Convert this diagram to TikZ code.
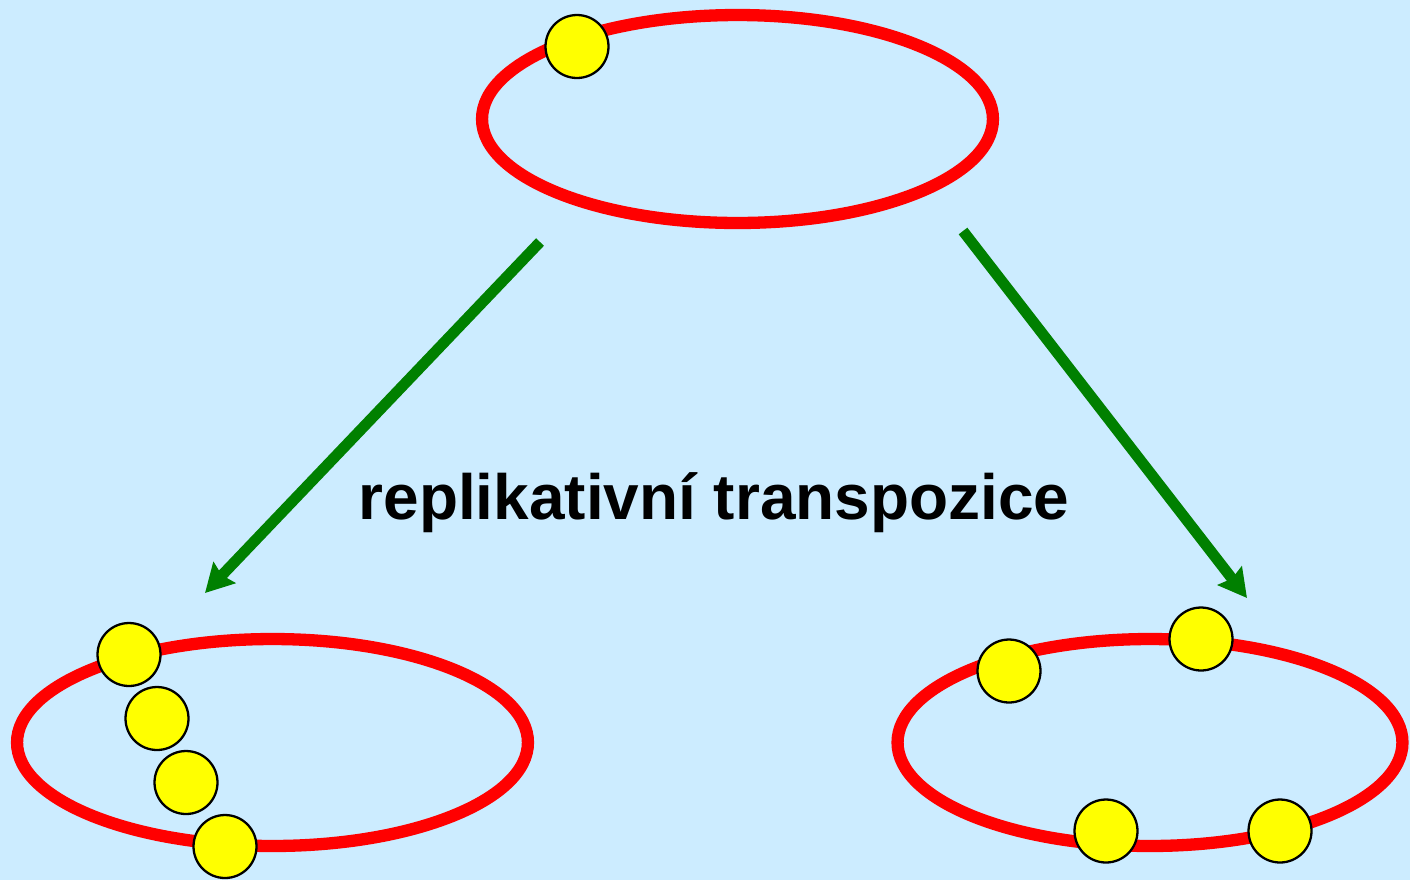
\documentclass[tikz,border=0pt]{standalone}
\usepackage{fontspec}
\setmainfont{Liberation Sans}
\usetikzlibrary{shapes.geometric,arrows.meta}
\definecolor{bgblue}{RGB}{204,236,255}
\definecolor{ringred}{RGB}{255,0,0}
\definecolor{ispyellow}{RGB}{255,255,0}
\definecolor{arrowgreen}{RGB}{0,128,0}
\tikzset{
  ring/.style={draw=ringred, line width=7pt, ellipse, inner sep=0pt,
    minimum width=#1},
  ring/.default=10.2cm,
  element/.style={circle, draw=black, fill=ispyellow, line width=1.3pt,
    inner sep=0pt, minimum size=1.26cm},
  move/.style={draw=arrowgreen, line width=6.2pt,
    -{Stealth[length=0.56cm, width=0.6cm, inset=0.07cm]}},
  caption/.style={font=\bfseries\fontsize{36.4}{40}\selectfont, inner sep=0pt}
}
\begin{document}
\begin{tikzpicture}[x=0.02cm, y=-0.02cm]
  \fill[bgblue] (0,0) rectangle (1410,880);
  \useasboundingbox (0,0) rectangle (1410,880);

  % plasmid rings
  \node[ring=10.22cm, minimum height=4.16cm] (top)   at (737.5,119) {};
  \node[ring=10.22cm, minimum height=4.14cm] (left)  at (272.5,742.5) {};
  \node[ring=10.1cm,  minimum height=4.14cm] (right) at (1150,742.5) {};

  % transposable elements
  \node[element] (t1) at (577,46.5) {};

  \node[element] (l1) at (129,654.5) {};
  \node[element] (l2) at (157,718.5) {};
  \node[element] (l3) at (186,782.5) {};
  \node[element] (l4) at (225,846.5) {};

  \node[element] (r1) at (1009,671) {};
  \node[element] (r2) at (1201,639) {};
  \node[element] (r3) at (1106,831) {};
  \node[element] (r4) at (1280,831) {};

  % arrows
  \coordinate (ls) at (540,242);
  \coordinate (le) at (205,593);
  \coordinate (rs) at (963,231);
  \coordinate (re) at (1247,598);
  \draw[move] (ls) -- (le);
  \draw[move] (rs) -- (re);

  \node[caption, anchor=base] (cap) at (714,519) {replikativní transpozice};
\end{tikzpicture}
\end{document}
